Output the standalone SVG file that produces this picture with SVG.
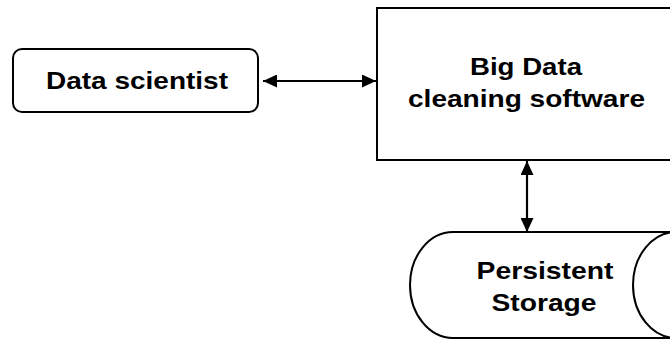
<svg xmlns="http://www.w3.org/2000/svg" width="670" height="340" viewBox="0 0 670 340">
<style>
.s{fill:#fff;stroke:#000;stroke-width:2}
.t{font-family:"Liberation Sans",Arial,sans-serif;font-weight:bold;font-size:24.5px;fill:#000;text-anchor:middle}
.c{stroke:#000;stroke-width:2.2;fill:none}
</style>
<defs>
<marker id="a" markerWidth="14" markerHeight="13" refX="14" refY="6.5" orient="auto-start-reverse" markerUnits="userSpaceOnUse">
<path d="M0,0 L14,6.5 L0,13 Z" fill="#000"/>
</marker>
</defs>
<rect width="670" height="340" fill="#fff"/>
<g id="scientist">
<rect class="s" x="13" y="49" width="245" height="63" rx="9"/>
<text class="t" x="137" y="89" textLength="182" lengthAdjust="spacingAndGlyphs">Data scientist</text>
</g>
<g id="software">
<rect class="s" x="377" y="8" width="320" height="152"/>
<text class="t" x="526" y="75" textLength="112" lengthAdjust="spacingAndGlyphs">Big Data</text>
<text class="t" x="526.5" y="107" textLength="237" lengthAdjust="spacingAndGlyphs">cleaning software</text>
</g>
<g id="storage">
<path class="s" d="M676,232 L453,232 A43,53 0 0 0 453,338 L676,338"/>
<ellipse class="s" cx="676" cy="285" rx="43" ry="53"/>
<text class="t" x="545" y="279" textLength="137" lengthAdjust="spacingAndGlyphs">Persistent</text>
<text class="t" x="544" y="311" textLength="105" lengthAdjust="spacingAndGlyphs">Storage</text>
</g>
<g id="connectors">
<line class="c" x1="263" y1="81" x2="376" y2="81" marker-start="url(#a)" marker-end="url(#a)"/>
<line class="c" x1="527" y1="161" x2="527" y2="232" marker-start="url(#a)" marker-end="url(#a)"/>
</g>
</svg>
